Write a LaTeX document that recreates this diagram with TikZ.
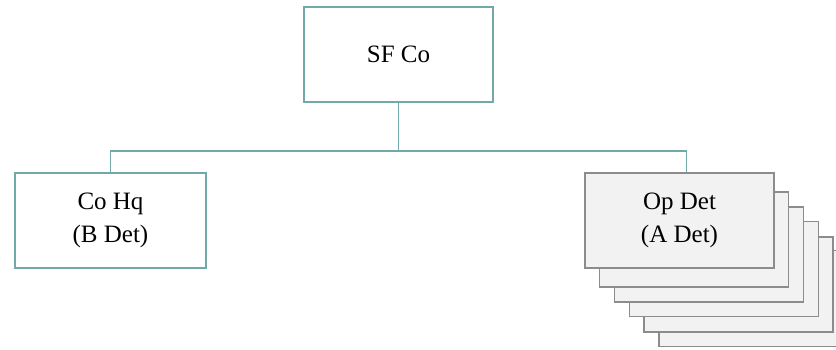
\documentclass[tikz,border=0pt]{standalone}
\usepackage{fontspec}
\setmainfont{Liberation Serif}
\definecolor{teal1}{HTML}{72A8AA}
\definecolor{grayb}{HTML}{8C8C8C}
\definecolor{grayf}{HTML}{F2F2F2}
\begin{document}
\begin{tikzpicture}[x=1pt,y=-1pt,
  tealbox/.style={draw=teal1,line width=1.5pt,fill=white,rectangle,minimum width=189pt,minimum height=95pt,inner sep=0pt,align=center,font=\fontsize{25}{33}\selectfont},
  graybox/.style={draw=grayb,line width=1.5pt,fill=grayf,rectangle,minimum width=189pt,minimum height=95pt,inner sep=0pt,align=center,font=\fontsize{25}{33}\selectfont},
  conn/.style={draw=teal1,line width=1.8pt}]
\useasboundingbox (0,0) rectangle (836,350);
\begin{scope}
\clip (0,0) rectangle (836,350);
\node[graybox,minimum height=96pt] (s5) at (753.5,298.5) {};
\node[graybox] (s4) at (738.5,284.5) {};
\node[graybox] (s3) at (724,269) {};
\node[graybox] (s2) at (709,254.5) {};
\node[graybox] (s1) at (694,239.5) {};
\end{scope}
\node[graybox] (opdet) at (679.5,220.5) {Op Det\\(A Det)};
\node[tealbox] (sfco) at (398.5,54.5) {SF Co};
\node[tealbox,minimum width=191pt] (cohq) at (110.5,220.5) {Co Hq\\(B Det)};
\coordinate (j) at ([yshift=-48pt]sfco.south);
\coordinate (opin) at ([xshift=7pt]opdet.north);
\draw[conn] (sfco.south) -- (j) -| (cohq.north);
\draw[conn] (j) -| (opin);
\end{tikzpicture}
\end{document}
